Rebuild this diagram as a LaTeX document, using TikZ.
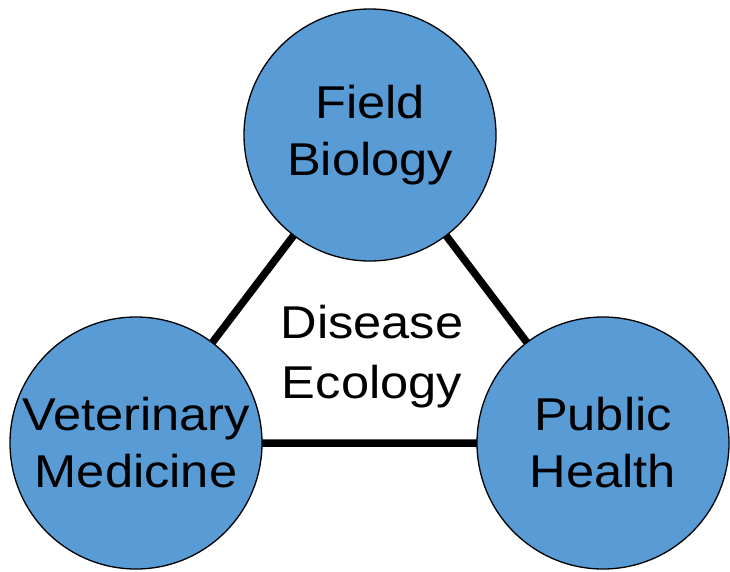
\documentclass[tikz,border=0pt]{standalone}
\usepackage{fontspec}
\setmainfont[FakeStretch=1.1]{Liberation Sans}
\definecolor{discblue}{RGB}{88,155,213}
\begin{document}
\begin{tikzpicture}[x=1pt,y=-1pt,
	field/.style={circle,draw=black,line width=1.3pt,fill=discblue,minimum size=252pt,inner sep=0pt,align=center,font=\fontsize{46}{57}\selectfont},
	link/.style={line width=7.5pt}]
	\useasboundingbox (0,0) rectangle (730,571);
	\node[font=\fontsize{46}{60}\selectfont,align=center] (eco) at (372,357) {Disease\\Ecology};
	\coordinate (fb) at (370,135);
	\coordinate (vm) at (136,443);
	\coordinate (ph) at (603,443);
	\draw[link] (fb)--(vm)--(ph)--cycle;
	\node[field] (bio) at (fb) {Field\\Biology};
	\node[field] (vet) at (vm) {Veterinary\\Medicine};
	\node[field] (pub) at (ph) {Public\\Health};
\end{tikzpicture}
\end{document}
